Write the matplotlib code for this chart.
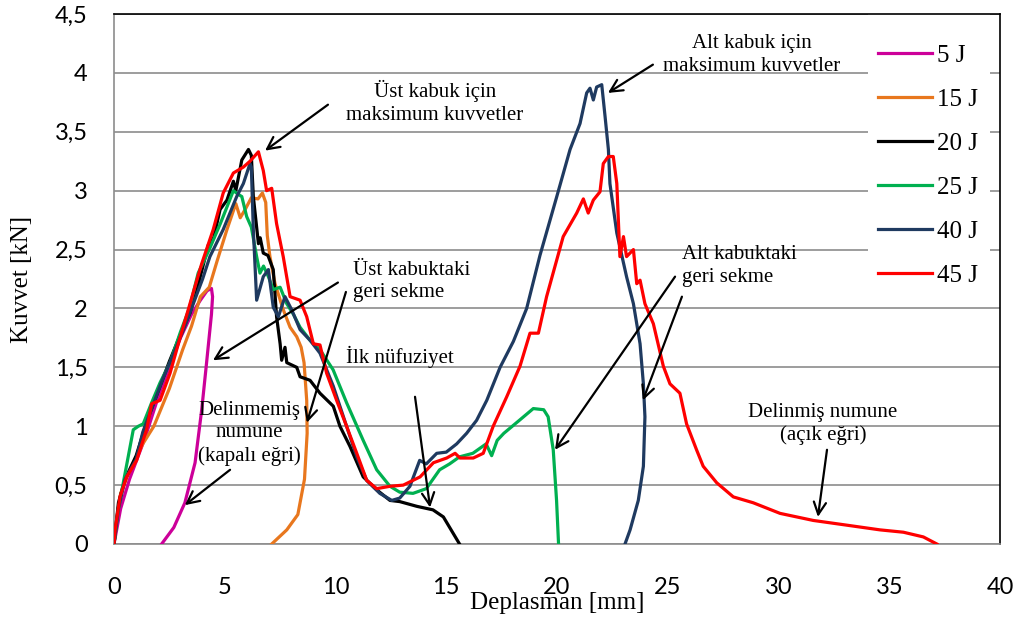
import matplotlib
matplotlib.use("Agg")
import matplotlib.pyplot as plt
from matplotlib.patches import Rectangle

# === Data (Deplasman [mm], Kuvvet [kN]) ===
e5 = [(0, 0), (0.3, 0.3), (0.7, 0.55), (1.0, 0.7), (1.4, 0.9), (2.0, 1.25), (2.5, 1.5),
      (3.0, 1.75), (3.5, 1.95), (3.9, 2.07), (4.2, 2.15), (4.4, 2.17), (4.45, 2.1),
      (4.4, 1.95), (4.33, 1.82), (4.18, 1.54), (3.96, 1.14), (3.66, 0.69), (3.2, 0.35),
      (2.7, 0.14), (2.15, 0.0)]

e15 = [(0, 0), (0.15, 0.25), (0.3, 0.43), (0.7, 0.62), (1.3, 0.85), (1.8, 1.0), (2.5, 1.32),
       (3.1, 1.65), (3.5, 1.85), (3.9, 2.1), (4.3, 2.18), (4.65, 2.4), (5.1, 2.67), (5.5, 2.89),
       (5.7, 2.77), (5.95, 2.85), (6.2, 2.94), (6.5, 2.93), (6.7, 2.98), (6.85, 2.9),
       (6.92, 2.62), (7.04, 2.44), (7.27, 2.21), (7.64, 1.99), (7.95, 1.84), (8.25, 1.76),
       (8.45, 1.67), (8.58, 1.54), (8.7, 1.22), (8.72, 0.94), (8.6, 0.55), (8.3, 0.25),
       (7.8, 0.12), (7.12, 0.0)]

e20 = [(0, 0), (0.2, 0.35), (0.5, 0.55), (1.0, 0.75), (1.5, 1.05), (2.0, 1.3), (2.5, 1.55),
       (3.0, 1.78), (3.43, 1.96), (3.8, 2.2), (4.26, 2.54), (4.5, 2.6), (4.79, 2.84),
       (5.1, 2.92), (5.39, 3.08), (5.5, 3.0), (5.77, 3.26), (6.07, 3.35), (6.2, 3.3),
       (6.29, 2.95), (6.52, 2.55), (6.6, 2.6), (6.74, 2.47), (6.95, 2.45), (7.19, 2.33),
       (7.34, 1.93), (7.5, 1.7), (7.57, 1.56), (7.72, 1.67), (7.8, 1.54), (8.25, 1.5),
       (8.4, 1.42), (8.85, 1.39), (9.3, 1.28), (9.9, 1.17), (10.2, 1.0), (10.65, 0.83),
       (11.25, 0.57), (11.86, 0.46), (12.46, 0.37), (12.9, 0.36), (13.67, 0.32),
       (14.4, 0.29), (14.87, 0.23), (15.6, 0.0)]

e25 = [(0, 0), (0.2, 0.3), (0.5, 0.6), (0.87, 0.97), (1.1, 1.0), (1.32, 1.02), (1.7, 1.2),
       (2.08, 1.37), (2.53, 1.54), (3.0, 1.8), (3.4, 2.0), (3.8, 2.3), (4.3, 2.5), (4.8, 2.72),
       (5.16, 2.89), (5.39, 3.0), (5.6, 2.97), (5.77, 2.95), (5.99, 2.78), (6.2, 2.69),
       (6.44, 2.44), (6.59, 2.3), (6.75, 2.36), (6.97, 2.27), (7.19, 2.16), (7.5, 2.18),
       (7.8, 2.04), (8.1, 1.95), (8.4, 1.84), (8.85, 1.73), (9.3, 1.65), (9.89, 1.48),
       (10.5, 1.2), (11.25, 0.88), (11.86, 0.63), (12.46, 0.49), (12.9, 0.44), (13.5, 0.43),
       (14.1, 0.47), (14.7, 0.63), (15.15, 0.68), (15.6, 0.74), (16.2, 0.77), (16.8, 0.85),
       (17.05, 0.75), (17.3, 0.88), (17.6, 0.94), (18.3, 1.05), (18.93, 1.15), (19.4, 1.14),
       (19.6, 1.08), (19.83, 0.8), (19.98, 0.37), (20.07, 0.0)]

e40 = [(0, 0), (0.2, 0.3), (0.5, 0.55), (1.0, 0.72), (1.3, 0.95), (1.7, 1.15), (2.2, 1.4),
       (2.7, 1.62), (3.2, 1.85), (3.6, 2.05), (4.0, 2.25), (4.33, 2.44), (4.93, 2.67),
       (5.54, 2.95), (5.84, 3.06), (6.14, 3.23), (6.2, 3.2), (6.29, 2.67), (6.44, 2.07),
       (6.74, 2.27), (6.97, 2.33), (7.19, 2.01), (7.42, 1.93), (7.72, 2.1), (8.02, 1.99),
       (8.4, 1.82), (8.85, 1.73), (9.3, 1.62), (9.9, 1.34), (10.5, 1.0), (10.96, 0.74),
       (11.41, 0.54), (12.0, 0.43), (12.54, 0.37), (12.9, 0.39), (13.36, 0.49), (13.8, 0.71),
       (14.1, 0.68), (14.57, 0.77), (15.0, 0.78), (15.47, 0.85), (15.92, 0.94), (16.37, 1.05),
       (16.83, 1.22), (17.43, 1.5), (18.03, 1.72), (18.63, 2.0), (19.23, 2.45), (19.99, 2.95),
       (20.59, 3.35), (21.04, 3.57), (21.34, 3.83), (21.49, 3.87), (21.64, 3.77), (21.79, 3.88),
       (22.02, 3.9), (22.17, 3.63), (22.32, 3.35), (22.39, 3.06), (22.7, 2.64), (23.14, 2.27),
       (23.45, 2.04), (23.75, 1.7), (23.9, 1.36), (23.97, 1.08), (23.9, 0.66), (23.67, 0.37),
       (23.3, 0.12), (23.07, 0.0)]

e45 = [(0, 0), (0.05, 0.12), (0.27, 0.4), (0.57, 0.57), (1.02, 0.71), (1.47, 0.97), (1.7, 1.19),
       (2.08, 1.22), (2.53, 1.45), (2.98, 1.75), (3.43, 2.04), (3.96, 2.38), (4.48, 2.67),
       (4.93, 2.98), (5.39, 3.15), (5.84, 3.2), (6.14, 3.25), (6.52, 3.33), (6.74, 3.17),
       (6.89, 3.0), (7.12, 3.02), (7.34, 2.72), (7.64, 2.44), (7.95, 2.1), (8.4, 2.07),
       (8.7, 1.93), (9.0, 1.7), (9.3, 1.69), (9.6, 1.45), (10.05, 1.22), (10.5, 1.0),
       (10.96, 0.77), (11.41, 0.54), (11.86, 0.47), (12.46, 0.49), (13.06, 0.5), (13.82, 0.57),
       (14.42, 0.69), (15.02, 0.73), (15.4, 0.77), (15.62, 0.73), (16.22, 0.73), (16.67, 0.77),
       (17.12, 1.0), (17.73, 1.25), (18.33, 1.51), (18.78, 1.79), (19.16, 1.79), (19.53, 2.1),
       (20.28, 2.61), (20.89, 2.81), (21.19, 2.93), (21.41, 2.81), (21.64, 2.92), (21.94, 2.99),
       (22.09, 3.23), (22.32, 3.29), (22.54, 3.29), (22.7, 3.06), (22.84, 2.44), (23.0, 2.61),
       (23.14, 2.44), (23.45, 2.5), (23.6, 2.21), (23.75, 2.24), (23.97, 2.04), (24.35, 1.87),
       (24.8, 1.51), (25.1, 1.36), (25.55, 1.28), (25.85, 1.02), (26.3, 0.8), (26.6, 0.66),
       (27.21, 0.52), (27.96, 0.4), (28.86, 0.35), (30.07, 0.26), (31.57, 0.2), (33.08, 0.16),
       (34.58, 0.12), (35.64, 0.1), (36.54, 0.06), (37.15, 0.0)]

series = [e5, e15, e20, e25, e40, e45]
labels = ["5 J", "15 J", "20 J", "25 J", "40 J", "45 J"]
colors = ["#CC0099", "#E8771E", "#000000", "#00B050", "#1F3A60", "#FF0000"]

xticks = [0, 5, 10, 15, 20, 25, 30, 35, 40]
yticks = [0, 0.5, 1, 1.5, 2, 2.5, 3, 3.5, 4, 4.5]
ytick_labels = ["0", "0,5", "1", "1,5", "2", "2,5", "3", "3,5", "4", "4,5"]

# === Figure ===
serif = "Liberation Serif"
fig = plt.figure(figsize=(10.25, 6.24), dpi=100)
ax = fig.add_axes([114 / 1025, 1 - 544 / 624, 886 / 1025, 530 / 624])

for data, lab, col in zip(series, labels, colors):
    xs = [p[0] for p in data]
    ys = [p[1] for p in data]
    ax.plot(xs, ys, color=col, lw=2.3, label=lab, solid_joinstyle="round", zorder=3)

ax.set_xlim(0, 40)
ax.set_ylim(0, 4.5)
ax.set_xticks(xticks)
ax.set_yticks(yticks)
ax.set_yticklabels(ytick_labels)
ax.tick_params(length=0, labelsize=17)
ax.tick_params(axis="x", pad=24)
ax.tick_params(axis="y", pad=19)
for t in ax.get_xticklabels() + ax.get_yticklabels():
    t.set_family("Lato")

ax.yaxis.grid(True, color="#8c8c8c", lw=1.2)
ax.set_axisbelow(True)
for side in ["left", "bottom"]:
    ax.spines[side].set_color("#8c8c8c")
    ax.spines[side].set_linewidth(1.2)
for side in ["top", "right"]:
    ax.spines[side].set_color("black")
    ax.spines[side].set_linewidth(1.2)

ax.set_xlabel("Deplasman [mm]", fontsize=18, family=serif)
ax.set_ylabel("Kuvvet [kN]", fontsize=18, family=serif)
ax.xaxis.set_label_coords(0.5, -(603 - 544) / 530)
ax.yaxis.set_label_coords(-(114 - 22) / 886, 0.5)
ax.xaxis.label.set_va("center")
ax.yaxis.label.set_va("center")

# white box behind the legend hides the grid there
ax.add_patch(Rectangle(((868 - 114) / 886, (544 - 300) / 530), (990 - 868) / 886,
                       300 / 530, transform=ax.transAxes, facecolor="white",
                       edgecolor="none", zorder=1))
leg = ax.legend(loc="upper left", bbox_to_anchor=((878 - 114) / 886, (544 - 44) / 530),
                borderaxespad=0, borderpad=0, frameon=False,
                prop={"family": serif, "size": 18}, handlelength=2.15, handletextpad=0.2,
                labelspacing=0.86)

# === Annotations ===
arrow = dict(arrowstyle="->", color="black", lw=1.6, shrinkA=0, shrinkB=0, mutation_scale=22)
tsize = 15

def note(text, x, y, ha="center"):
    ax.text(x, y, text, ha=ha, va="center", fontsize=tsize, family=serif,
            linespacing=1.25, zorder=4)

def arr(tail, head):
    ax.annotate("", xy=head, xytext=tail, arrowprops=arrow, zorder=4)

note("Üst kabuk için\nmaksimum kuvvetler", 14.49, 3.75)
arr((9.66, 3.73), (6.82, 3.34))

note("Alt kabuk için\nmaksimum kuvvetler", 28.8, 4.15)
arr((24.33, 4.07), (22.3, 3.83))

note("Üst kabuktaki\ngeri sekme", 10.79, 2.23, ha="left")
arr((10.11, 2.22), (4.47, 1.56))
arr((10.47, 2.14), (8.71, 1.03))

note("İlk nüfuziyet", 12.91, 1.59)
arr((13.59, 1.25), (14.27, 0.31))

note("Delinmemiş\nnumune\n(kapalı eğri)", 6.09, 0.94)
arr((5.24, 0.63), (3.2, 0.33))

note("Alt kabuktaki\ngeri sekme", 25.64, 2.36, ha="left")
arr((25.33, 2.27), (19.91, 0.80))
arr((25.64, 2.10), (23.88, 1.22))

note("Delinmiş numune\n(açık eğri)", 32.0, 1.02)
arr((32.19, 0.80), (31.78, 0.23))

fig.savefig("out.png", dpi=100)
